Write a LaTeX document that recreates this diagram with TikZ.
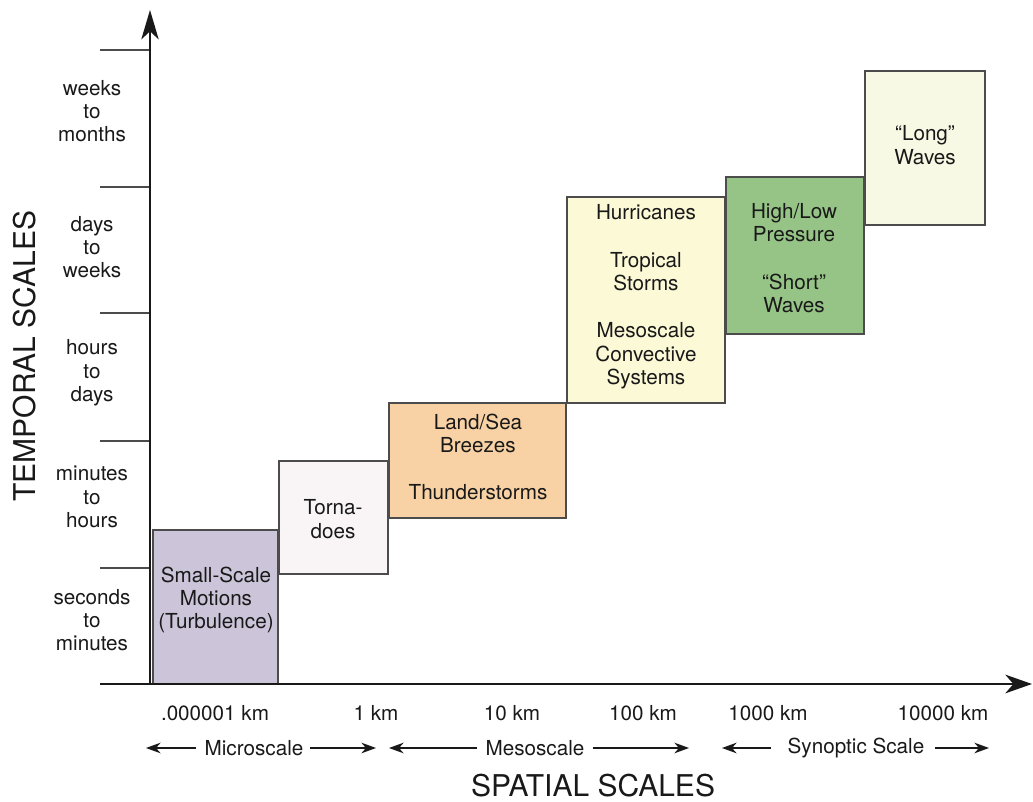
\documentclass[tikz,border=0pt]{standalone}
\usepackage{fontspec}
\setmainfont{TeX Gyre Heros}
\usetikzlibrary{arrows.meta}

\definecolor{turbfill}{RGB}{204,196,216}
\definecolor{tornfill}{RGB}{249,245,247}
\definecolor{mesofill}{RGB}{248,210,164}
\definecolor{hurrfill}{RGB}{251,249,214}
\definecolor{presfill}{RGB}{150,196,134}
\definecolor{longfill}{RGB}{248,249,228}

\begin{document}
\begin{tikzpicture}[x=0.75pt,y=-0.75pt,
    axis/.style={line width=1.5pt, black!90},
    tickline/.style={line width=0.8pt, black!70},
    evbox/.style={draw=black!70, line width=0.8pt},
    evtext/.style={align=center, inner sep=0pt, font=\fontsize{15.5}{17.5}\selectfont, black!90},
    scalearrow/.style={line width=0.9pt, black!90, -{Stealth[length=11pt, width=8pt, inset=3.5pt]}},
    bigtitle/.style={font=\fontsize{22.5}{26}\selectfont, black!90, inner sep=0pt}]
        % Define dimensions
        \useasboundingbox (0,0) rectangle (1033,802);
        \coordinate (origin) at (150,684);
        \coordinate (ytop) at (150,10);
        \coordinate (xleft) at (100,684);
        \coordinate (xright) at (1032,684);
        % Draw event boxes
        \draw[evbox, fill=turbfill] (153,530) rectangle (278,684);
        \draw[evbox, fill=tornfill] (279,461) rectangle (388,574);
        \draw[evbox, fill=mesofill] (389,403) rectangle (566,518);
        \draw[evbox, fill=hurrfill] (567,197) rectangle (725,403);
        \draw[evbox, fill=presfill] (726,177) rectangle (864,334);
        \draw[evbox, fill=longfill] (865,71) rectangle (985,225);
        \node[evtext] (turb) at (216,600) {Small-Scale\\Motions\\(Turbulence)};
        \node[evtext] (torn) at (333,519) {Torna-\\does};
        \node[evtext] (breeze) at (478,457) {Land/Sea\\Breezes\\[18pt]Thunderstorms};
        \node[evtext] (hurr) at (646,297) {Hurricanes\\[18pt]Tropical\\Storms\\[18pt]Mesoscale\\Convective\\Systems};
        \node[evtext] (pres) at (794,258) {High/Low\\Pressure\\[18pt]``Short''\\Waves};
        \node[evtext] (long) at (925,145) {``Long''\\Waves};
        % Draw axes
        \foreach \y in {50,187,313,441,568}
            \draw[tickline] (100,\y) -- (150,\y);
        \draw[axis, -{Stealth[length=22pt, width=13pt, inset=6pt]}] (origin) -- (ytop);
        \draw[axis, -{Stealth[length=20pt, width=14pt, inset=6pt]}] (xleft) -- (xright);
        % Time labels
        \foreach \y/\txt [count=\i] in {111/{weeks\\to\\months}, 247/{days\\to\\weeks}, 373/{hours\\to\\days}, 497/{minutes\\to\\hours}, 620/{seconds\\to\\minutes}}
            \node[evtext] (tlab\i) at (92,\y) {\txt};
        % Space labels
        \foreach \x/\txt [count=\i] in {215/.000001 km, 376/1 km, 512/10 km, 643/100 km, 768/1000 km, 943/10000 km}
            \node[evtext] (slab\i) at (\x,713) {\txt};
        % Scale ranges
        \node[evtext] (micro) at (254,748) {Microscale};
        \node[evtext] (meso) at (535,748) {Mesoscale};
        \node[evtext] (synop) at (856,748) {Synoptic Scale};
        \coordinate (microL) at (146,748);
        \coordinate (microR) at (376,748);
        \coordinate (mesoL) at (389,748);
        \coordinate (mesoR) at (689,748);
        \coordinate (synopL) at (722,748);
        \coordinate (synopR) at (989,748);
        \draw[scalearrow] ([xshift=-6pt]micro.west) -- (microL);
        \draw[scalearrow] ([xshift=5pt]micro.east) -- (microR);
        \draw[scalearrow] ([xshift=-6pt]meso.west) -- (mesoL);
        \draw[scalearrow] ([xshift=6pt]meso.east) -- (mesoR);
        \draw[scalearrow] ([xshift=-12pt]synop.west) -- (synopL);
        \draw[scalearrow] ([xshift=8pt]synop.east) -- (synopR);
        % Axis titles
        \node[bigtitle, rotate=90] (ttitle) at (25,356) {TEMPORAL SCALES};
        \node[bigtitle] (stitle) at (593,786) {SPATIAL SCALES};
\end{tikzpicture}
\end{document}
